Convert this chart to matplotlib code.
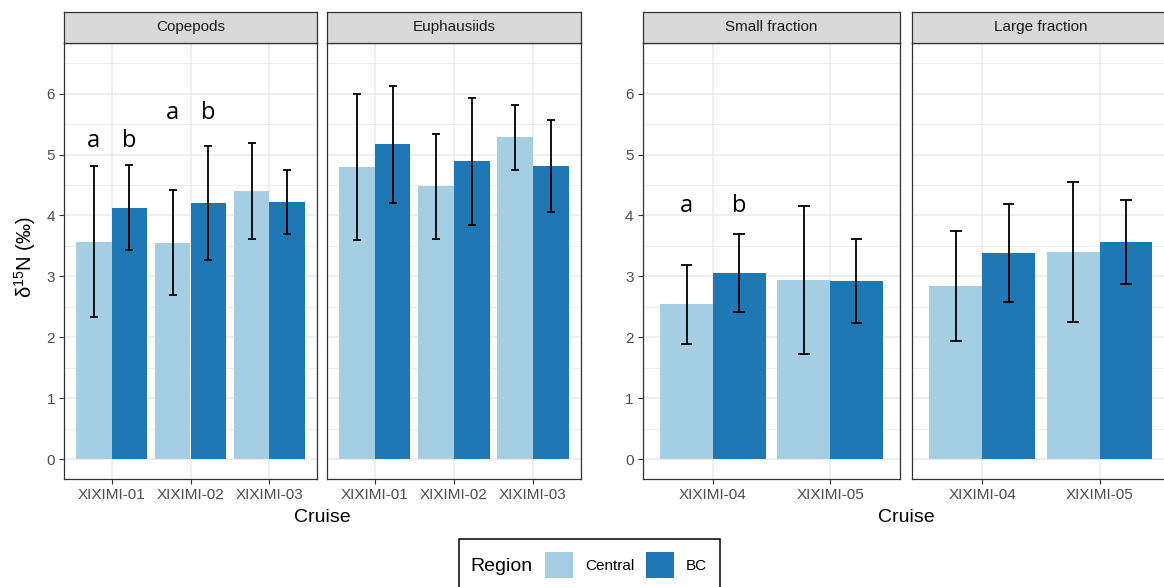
import numpy as np
import matplotlib.pyplot as plt
from matplotlib.patches import Patch, Rectangle

plt.rcParams['font.family'] = ['Liberation Sans', 'DejaVu Sans']
plt.rcParams['mathtext.default'] = 'regular'

# data (mean and sd of d15N)
cruises_left = ['XIXIMI-01', 'XIXIMI-02', 'XIXIMI-03']
cruises_right = ['XIXIMI-04', 'XIXIMI-05']
regions = ['Central', 'BC']

cope_central = [3.57, 3.555, 4.40]
cope_central_sd = [1.24, 0.865, 0.79]
cope_bc = [4.13, 4.205, 4.22]
cope_bc_sd = [0.70, 0.935, 0.53]

euph_central = [4.80, 4.48, 5.285]
euph_central_sd = [1.20, 0.86, 0.535]
euph_bc = [5.17, 4.89, 4.81]
euph_bc_sd = [0.96, 1.04, 0.76]

small_central = [2.54, 2.94]
small_central_sd = [0.65, 1.21]
small_bc = [3.05, 2.925]
small_bc_sd = [0.64, 0.685]

large_central = [2.845, 3.40]
large_central_sd = [0.905, 1.15]
large_bc = [3.385, 3.565]
large_bc_sd = [0.805, 0.685]

# significance letters
sig_panel = ['Copepods', 'Copepods', 'Copepods', 'Copepods', 'Small fraction', 'Small fraction']
sig_cruise = [0, 0, 1, 1, 0, 0]
sig_region = ['Central', 'BC', 'Central', 'BC', 'Central', 'BC']
sig_y = [5.12, 5.12, 5.58, 5.58, 4.05, 4.05]
sig_label = ['a', 'b', 'a', 'b', 'a', 'b']

col_central = '#A6CEE3'
col_bc = '#1F78B4'
grey20 = '#333333'

W, H = 1164, 587
fig = plt.figure(figsize=(W / 100, H / 100), dpi=100)


def fbox(x0, y0, x1, y1):
    return [x0 / W, 1 - y1 / H, (x1 - x0) / W, (y1 - y0) / H]


def draw_panel(x0, x1, title, cruises, cen, cen_sd, bc, bc_sd, ylabels):
    ax = fig.add_axes(fbox(x0, 43.3, x1, 479))
    st = fig.add_axes(fbox(x0, 11.5, x1, 43.3))
    x = np.arange(1, len(cruises) + 1)
    offs = {'Central': -0.225, 'BC': 0.225}
    for vals, sds, reg, col in [(cen, cen_sd, 'Central', col_central), (bc, bc_sd, 'BC', col_bc)]:
        xx = x + offs[reg]
        ax.bar(xx, vals, width=0.45, color=col, zorder=2)
        lo = np.array(vals) - np.array(sds)
        hi = np.array(vals) + np.array(sds)
        ax.vlines(xx, lo, hi, color='black', lw=1.3, zorder=3)
        ax.hlines(lo, xx - 0.05, xx + 0.05, color='black', lw=1.3, zorder=3)
        ax.hlines(hi, xx - 0.05, xx + 0.05, color='black', lw=1.3, zorder=3)
    for p, c, r, yv, lab in zip(sig_panel, sig_cruise, sig_region, sig_y, sig_label):
        if p == title:
            ax.text(x[c] + offs[r], yv, lab, ha='center', va='baseline',
                    fontsize=17, family=['Open Sans', 'DejaVu Sans'], zorder=4)
    ax.set_xlim(0.4, len(cruises) + 0.6)
    ax.set_ylim(-0.325, 6.825)
    ax.set_xticks(x)
    ax.set_xticklabels(cruises)
    ax.set_yticks(range(0, 7))
    ax.set_yticks(np.arange(0.5, 6.6, 1.0), minor=True)
    ax.grid(True, which='major', color='#EBEBEB', lw=1.1, zorder=0)
    ax.grid(True, which='minor', axis='y', color='#EBEBEB', lw=0.6, zorder=0)
    ax.set_axisbelow(True)
    ax.tick_params(axis='both', which='major', length=3.6, width=0.8, color=grey20,
                   labelsize=11, labelcolor='#4D4D4D', pad=3)
    ax.tick_params(axis='y', which='minor', length=0)
    if not ylabels:
        ax.tick_params(axis='y', which='major', length=0, labelleft=False)
    for s in ax.spines.values():
        s.set_color(grey20)
        s.set_linewidth(0.9)
    st.set_facecolor('#D9D9D9')
    st.set_xticks([])
    st.set_yticks([])
    for s in st.spines.values():
        s.set_color(grey20)
        s.set_linewidth(0.9)
    st.text(0.5, 0.5, title, ha='center', va='center', fontsize=11,
            color='#1A1A1A', transform=st.transAxes)
    return ax


ax1 = draw_panel(64.3, 316.7, 'Copepods', cruises_left, cope_central, cope_central_sd, cope_bc, cope_bc_sd, True)
ax2 = draw_panel(327.3, 580.5, 'Euphausiids', cruises_left, euph_central, euph_central_sd, euph_bc, euph_bc_sd, False)
ax3 = draw_panel(642.7, 900.3, 'Small fraction', cruises_right, small_central, small_central_sd, small_bc, small_bc_sd, True)
ax4 = draw_panel(911.7, 1170, 'Large fraction', cruises_right, large_central, large_central_sd, large_bc, large_bc_sd, False)

fig.text(322 / W, 1 - 518 / H, 'Cruise', ha='center', va='center', fontsize=14)
fig.text(906 / W, 1 - 518 / H, 'Cruise', ha='center', va='center', fontsize=14)
fig.text(25 / W, 1 - 257 / H, '\u03b4$^{15}$N (\u2030)', ha='center', va='center',
         rotation=90, fontsize=14.5)

# legend
fig.add_artist(Rectangle((459 / W, 1 - 600 / H), 261 / W, 61 / H, transform=fig.transFigure,
                         fill=False, edgecolor='black', lw=1.1, clip_on=False))
fig.text(470.7 / W, 1 - 566.7 / H, 'Region', ha='left', va='center', fontsize=14)
handles = [Patch(facecolor=col_central), Patch(facecolor=col_bc)]
fig.legend(handles, regions, ncol=2, frameon=False, fontsize=11, handlelength=1.83,
           handleheight=2.3, handletextpad=0.78, columnspacing=0.78, borderpad=0,
           borderaxespad=0, loc='center left', bbox_to_anchor=(545 / W, 1 - 565 / H))

fig.savefig('out.png', dpi=100)
